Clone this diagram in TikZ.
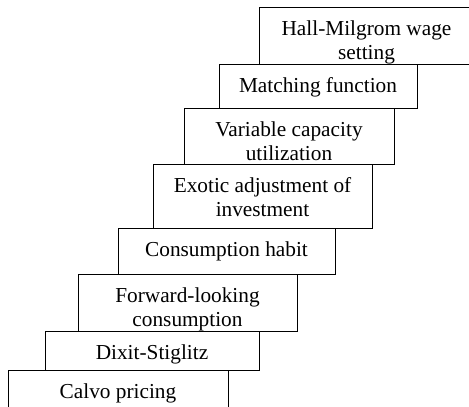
\documentclass[tikz,border=0pt]{standalone}
\usepackage{fontspec}
\setmainfont{Liberation Serif}
\usepackage{tikz}
\tikzstyle{stair} = [rectangle, anchor = north west, align = center, draw = black, fill = white, line width = 0.8pt, inner xsep = 0pt, inner ysep = 0pt, outer sep = 0pt, text height = 28pt, font = \fontsize{21.3pt}{24pt}\selectfont]
\tikzstyle{two lines} = [text height = 52pt]

\begin{document}
\begin{tikzpicture}

\useasboundingbox (0, 0) rectangle (469pt, -407pt);
\clip (0, 0) rectangle (469pt, -407pt);

%NODES
\node (hall) [stair, two lines, minimum width = 215pt, text depth = 5pt] at (259pt, -7pt) {Hall-Milgrom wage \\ setting};
\node (matching) [stair, minimum width = 198pt, text depth = 16pt, xshift = -40pt] at (hall.south west) {Matching function};
\node (capacity) [stair, two lines, minimum width = 210pt, text depth = 4pt, xshift = -35pt] at (matching.south west) {Variable capacity \\ utilization};
\node (investment) [stair, two lines, minimum width = 219pt, text depth = 12pt, xshift = -31pt] at (capacity.south west) {Exotic adjustment of \\ investment};
\node (habit) [stair, minimum width = 217pt, text depth = 18pt, xshift = -35pt] at (investment.south west) {Consumption habit};
\node (forward) [stair, two lines, minimum width = 219pt, text depth = 5pt, xshift = -40pt] at (habit.south west) {Forward-looking \\ consumption};
\node (dixit) [stair, minimum width = 214pt, text depth = 11pt, xshift = -33pt] at (forward.south west) {Dixit-Stiglitz};
\node (calvo) [stair, minimum width = 220pt, text depth = 12pt, xshift = -37pt] at (dixit.south west) {Calvo pricing};

\end{tikzpicture}
\end{document}
